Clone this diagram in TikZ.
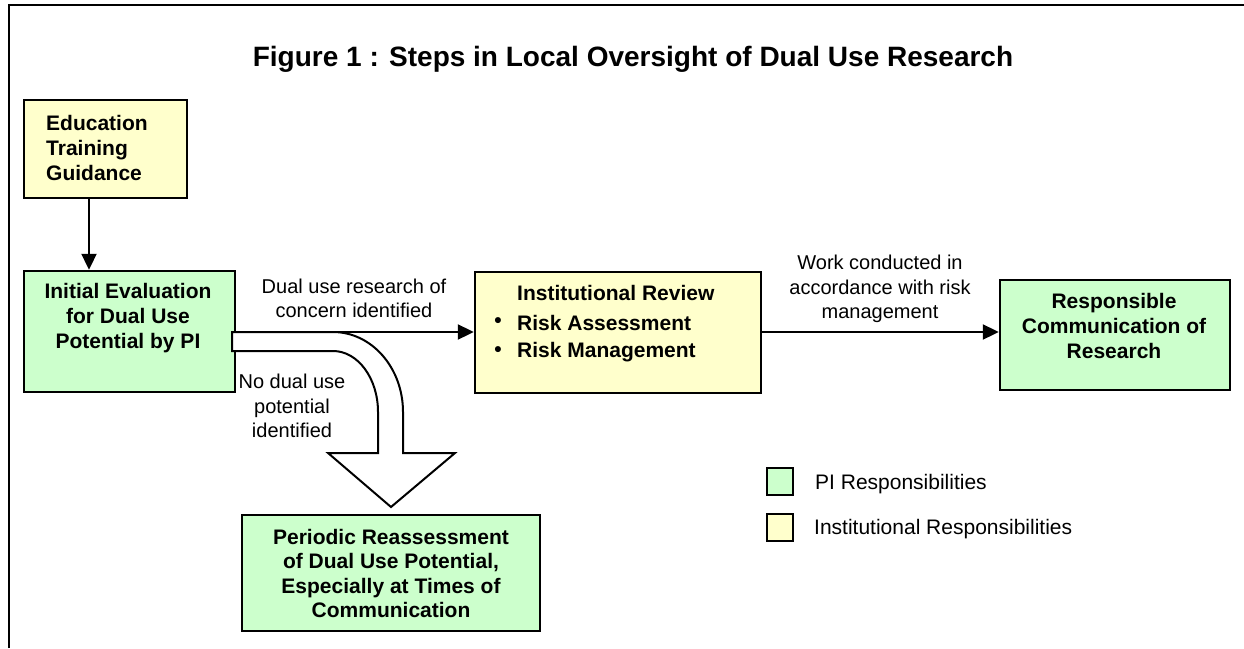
\documentclass[tikz,border=0pt]{standalone}
\usepackage{fontspec}
\setmainfont{Liberation Sans}
\usetikzlibrary{arrows.meta}
\definecolor{pigreen}{HTML}{CCFFCC}
\definecolor{instyellow}{HTML}{FFFFCC}
\tikzset{
  boxg/.style={draw=black, line width=2.4pt, fill=pigreen, inner sep=0pt, rectangle},
  boxy/.style={draw=black, line width=2.4pt, fill=instyellow, inner sep=0pt, rectangle},
  legbox/.style={draw=black, line width=2pt, inner sep=0pt, rectangle, minimum width=26pt, minimum height=27pt},
  boldtxt/.style={font=\fontsize{21}{25}\selectfont\bfseries, inner sep=0pt, align=center},
  plaintxt/.style={font=\fontsize{20}{24.5}\selectfont, inner sep=0pt, align=center},
  legtxt/.style={font=\fontsize{21}{25}\selectfont, inner sep=0pt, anchor=west},
  arr/.style={line width=2pt, -{Triangle[length=16pt,width=15pt]}},
}
\begin{document}
\begin{tikzpicture}[x=1pt,y=-1pt]
\useasboundingbox (0,0) rectangle (1244,648);
\fill[white] (0,0) rectangle (1244,648);
% frame
\draw[line width=2pt] (9,648) -- (9,5) -- (1244,5);
% title
\node[font=\fontsize{28}{30}\selectfont\bfseries, inner sep=0pt] (title) at (633,59) {Figure 1 : Steps in Local Oversight of Dual Use Research};
% boxes
\node[boxy, minimum width=163pt, minimum height=98pt] (edu) at (105.5,149) {};
\node[boldtxt, align=left, anchor=west] (edut) at (46,148) {Education\\Training\\Guidance};
\node[boxg, minimum width=211pt, minimum height=121pt] (init) at (129.5,331.5) {};
\node[boldtxt] (initt) at (128,318) {Initial Evaluation\\for Dual Use\\Potential by PI};
\node[boxy, minimum width=286pt, minimum height=121pt] (inst) at (618,332.5) {};
\node[boldtxt, anchor=west] (instt) at (517,293) {Institutional Review};
\node[boldtxt] (b1) at (498,323) {•};
\node[boldtxt, anchor=west] (b1t) at (517,323) {Risk Assessment};
\node[boldtxt] (b2) at (498,352) {•};
\node[boldtxt, anchor=west] (b2t) at (517,352) {Risk Management};
\node[boxg, minimum width=230pt, minimum height=110pt] (resp) at (1115,335) {};
\node[boldtxt] (respt) at (1114,325.5) {Responsible\\Communication of\\Research};
\node[boxg, minimum width=298pt, minimum height=116pt] (peri) at (391,573) {};
\node[boldtxt, font=\fontsize{21}{24.5}\selectfont\bfseries] (perit) at (391,573.5) {Periodic Reassessment\\of Dual Use Potential,\\Especially at Times of\\Communication};
% coordinates
\coordinate (ax) at (89,0);
\coordinate (ay) at (0,332);
% arrows
\draw[arr] (edu.south -| ax) -- (init.north -| ax);
% hollow arrow
\draw[line width=2pt, fill=white, line join=miter]
  (232,332) -- (333,332) .. controls (371.7,332) and (403,367.8) .. (403,412)
  -- (403,453) -- (455,453) -- (391,507) -- (328,453) -- (378,453) -- (378,412)
  .. controls (378,378.3) and (357.9,351) .. (333,351) -- (232,351) -- cycle;
\draw[arr] (init.east |- ay) -- (inst.west |- ay);
\draw[arr] (inst.east |- ay) -- (resp.west |- ay);
% labels
\node[plaintxt] (l1) at (354,298.5) {Dual use research of\\concern identified};
\node[plaintxt] (l2) at (292,406) {No dual use\\potential\\identified};
\node[plaintxt] (l3) at (880,289) {Work conducted in\\accordance with risk\\management};
% legend
\node[legbox, fill=pigreen] (lg1) at (780,481.5) {};
\node[legtxt] (lg1t) at (815,484) {PI Responsibilities};
\node[legbox, fill=instyellow] (lg2) at (780,527.5) {};
\node[legtxt] (lg2t) at (814,529) {Institutional Responsibilities};
\end{tikzpicture}
\end{document}
